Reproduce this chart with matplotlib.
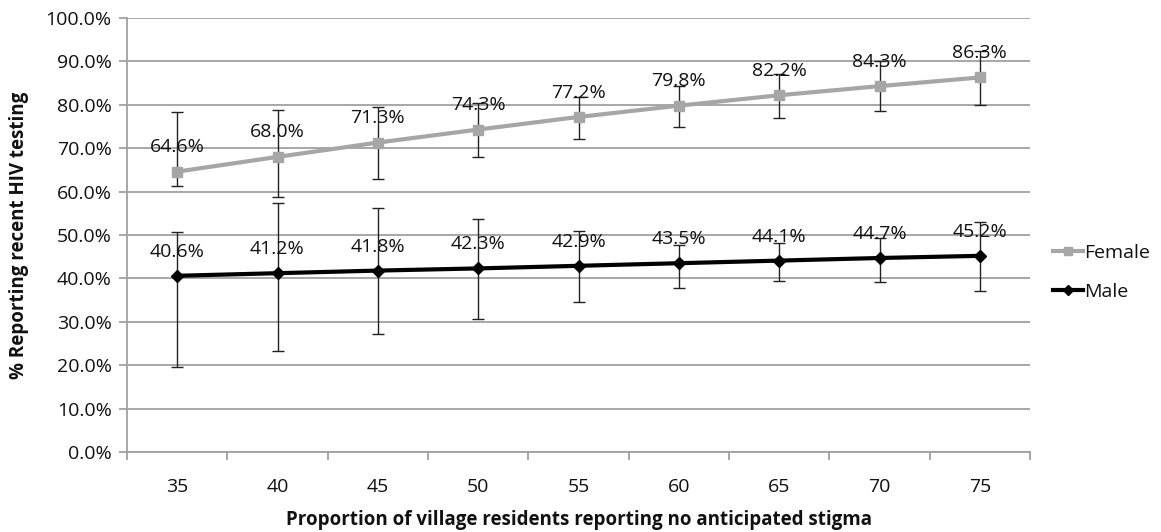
import matplotlib
matplotlib.use("Agg")
import matplotlib.pyplot as plt
from matplotlib.ticker import FuncFormatter, MultipleLocator
import numpy as np

stigma = [35, 40, 45, 50, 55, 60, 65, 70, 75]
female = [64.6, 68.0, 71.3, 74.3, 77.2, 79.8, 82.2, 84.3, 86.3]
female_upper = [78.3, 78.9, 79.5, 80.5, 81.9, 84.3, 87.0, 90.2, 92.5]
female_lower = [61.4, 58.7, 63.0, 68.0, 72.1, 75.0, 77.0, 78.5, 79.9]
male = [40.6, 41.2, 41.8, 42.3, 42.9, 43.5, 44.1, 44.7, 45.2]
male_upper = [50.6, 57.3, 56.2, 53.6, 50.9, 47.8, 48.1, 49.4, 53.0]
male_lower = [19.6, 23.3, 27.1, 30.7, 34.5, 37.7, 39.5, 39.2, 37.2]

plt.rcParams['font.family'] = ['Open Sans', 'DejaVu Sans']

fig = plt.figure(figsize=(11.61, 5.32), dpi=100)
ax = fig.add_axes([127/1161, 1-452/532, (1030-127)/1161, (452-18)/532])

grid_c = '#a0a0a0'
fs = 14
ax.set_ylim(0, 100)
ax.set_xlim(32.5, 77.5)
ax.yaxis.set_major_locator(MultipleLocator(10))
ax.yaxis.set_major_formatter(FuncFormatter(lambda v, p: f"{v:.1f}%"))
ax.grid(axis='y', color=grid_c, linewidth=1.3)
ax.set_axisbelow(True)

for s in ['top', 'right']:
    ax.spines[s].set_visible(False)
for s in ['left', 'bottom']:
    ax.spines[s].set_color(grid_c)
    ax.spines[s].set_linewidth(1.3)

ax.set_xticks(stigma)
ax.set_xticklabels([str(v) for v in stigma])
ax.set_xticks(np.arange(32.5, 78, 5), minor=True)
ax.tick_params(axis='x', which='major', length=0, labelsize=fs, pad=19, labelcolor='#111111')
ax.tick_params(axis='x', which='minor', length=6, color=grid_c, width=1.3)
ax.tick_params(axis='y', length=6, color=grid_c, width=1.3, labelsize=fs, pad=5, labelcolor='#111111')

f_err = [np.array(female) - np.array(female_lower), np.array(female_upper) - np.array(female)]
m_err = [np.array(male) - np.array(male_lower), np.array(male_upper) - np.array(male)]

ax.errorbar(stigma, female, yerr=f_err, fmt='none', ecolor='#222222', elinewidth=1.0, capsize=4, capthick=1.0, zorder=3)
ax.errorbar(stigma, male, yerr=m_err, fmt='none', ecolor='#222222', elinewidth=1.0, capsize=4, capthick=1.0, zorder=3)

ax.plot(stigma, female, color='#a6a6a6', linewidth=3, marker='s', markersize=7.5, label='Female', zorder=4)
ax.plot(stigma, male, color='black', linewidth=3, marker='D', markersize=6.5, label='Male', zorder=4)

for x, v in zip(stigma, female):
    ax.annotate(f"{v:.1f}%", (x, v), xytext=(0, 17.6), textcoords='offset points',
                ha='center', va='center', fontsize=fs, color='#111111', zorder=5)
for x, v in zip(stigma, male):
    ax.annotate(f"{v:.1f}%", (x, v), xytext=(0, 17.3), textcoords='offset points',
                ha='center', va='center', fontsize=fs, color='#111111', zorder=5)

ax.set_ylabel('% Reporting recent HIV testing', fontsize=13.5, fontweight='bold', labelpad=12,
              color='#111111')
ax.set_xlabel('Proportion of village residents reporting no anticipated stigma', fontsize=13.5,
              fontweight='bold', labelpad=10, color='#111111')

leg = ax.legend(loc='center left', bbox_to_anchor=(1.0, 0.414), frameon=False, fontsize=fs,
                handlelength=1.5, handletextpad=0.1, labelspacing=1.05, borderaxespad=0.8,
                markerscale=0.8)
for t in leg.get_texts():
    t.set_color('#111111')

fig.savefig('out.png', dpi=100)
